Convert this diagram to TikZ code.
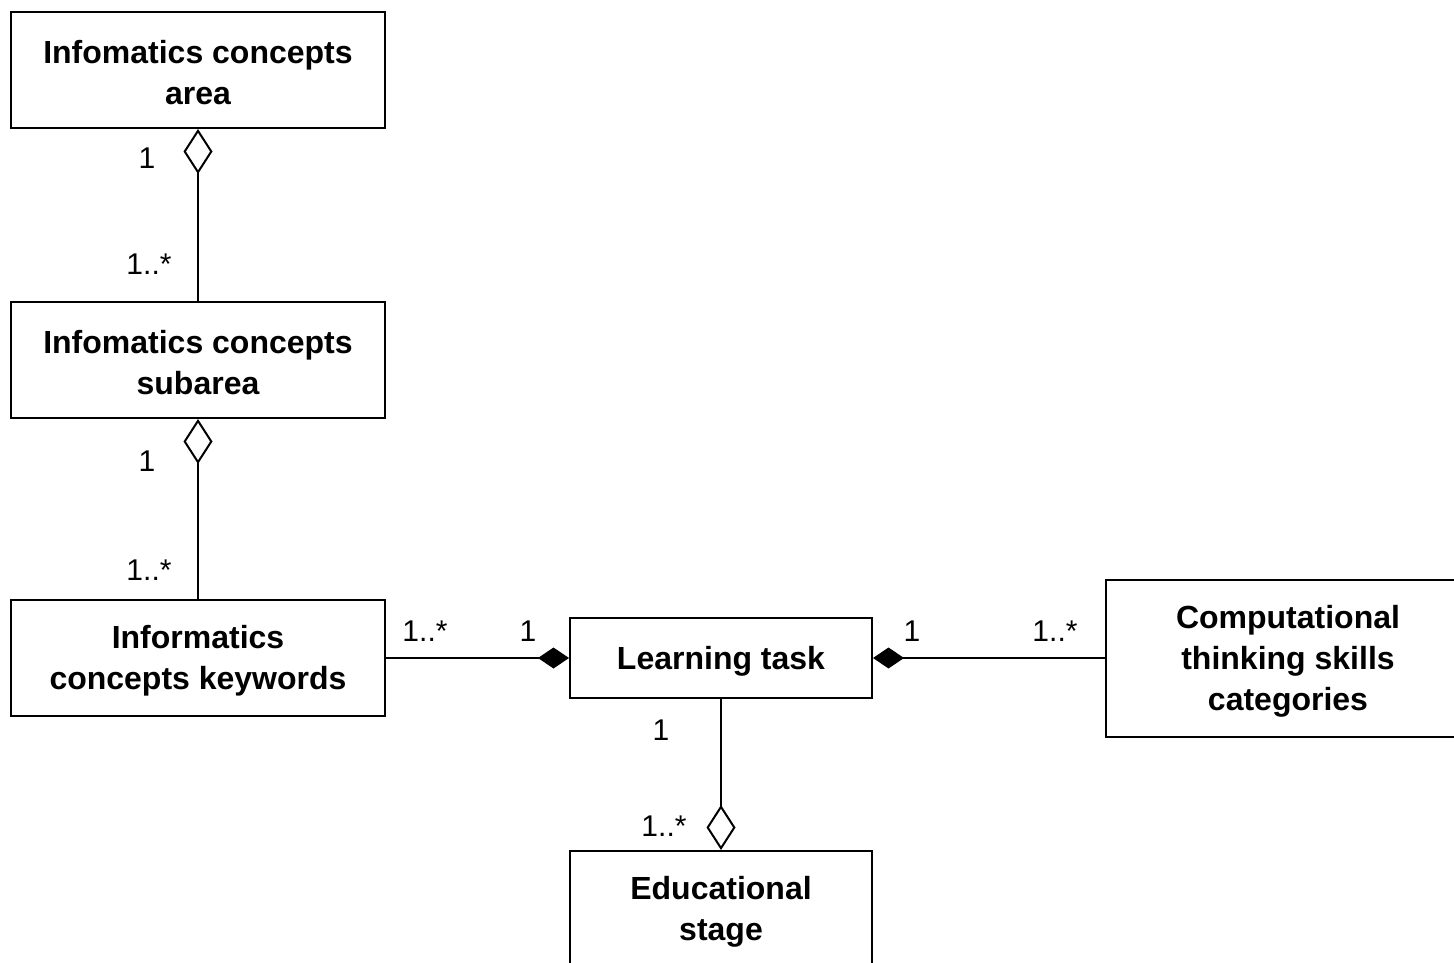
\documentclass[tikz,border=0pt]{standalone}
\usepackage{fontspec}
\setmainfont{Liberation Sans}
\usetikzlibrary{arrows.meta}
\begin{document}
\begin{tikzpicture}[x=1pt,y=1pt,
  cls/.style={draw, line width=2pt, fill=white, inner sep=0pt},
  title/.style={align=center, inner sep=0pt, yshift=-3pt,
    font=\fontsize{32}{41}\selectfont\bfseries},
  mult/.style={font=\fontsize{30}{36}\selectfont, inner sep=0pt, anchor=center},
  conn/.style={line width=2pt},
  agg/.style={{Diamond[open,length=45pt,width=29pt,line width=2pt]}-},
  comp/.style={{Diamond[length=31pt,width=21pt]}-}
]
\useasboundingbox (0,0) rectangle (1454,-963);

% classes
\node[cls, minimum width=374pt, minimum height=116pt] (area) at (198,-70) {};
\node[title] (areaT) at (area.center) {Infomatics concepts\\area};
\node[cls, minimum width=374pt, minimum height=116pt] (subarea) at (198,-360) {};
\node[title] (subareaT) at (subarea.center) {Infomatics concepts\\subarea};
\node[cls, minimum width=374pt, minimum height=116pt] (keywords) at (198,-658) {};
\node[title] (keywordsT) at (keywords.center) {Informatics\\concepts keywords};
\node[cls, minimum width=302pt, minimum height=80pt] (task) at (721,-658) {};
\node[title] (taskT) at (task.center) {Learning task};
\node[cls, minimum width=364pt, minimum height=157pt] (skills) at (1288,-658) {};
\node[title] (skillsT) at ([yshift=-0.5pt]skills.center) {Computational\\thinking skills\\categories};
\node[cls, minimum width=302pt, minimum height=116pt] (stage) at (721,-909) {};
\node[title] (stageT) at (stage.center) {Educational\\stage};

% associations
\draw[conn, agg] (area.south) -- (subarea.north);
\draw[conn, agg] (subarea.south) -- (keywords.north);
\draw[conn, comp] (task.west) -- (keywords.east);
\draw[conn, comp] (task.east) -- (skills.west);
\draw[conn, agg] (stage.north) -- (task.south);

% multiplicities
\node[mult] (m1) at (147,-158) {1};
\node[mult] (m2) at (149,-264) {1..*};
\node[mult] (m3) at (147,-461) {1};
\node[mult] (m4) at (149,-570) {1..*};
\node[mult] (m5) at (425,-631) {1..*};
\node[mult] (m6) at (528,-631) {1};
\node[mult] (m7) at (912,-631) {1};
\node[mult] (m8) at (1055,-631) {1..*};
\node[mult] (m9) at (661,-730) {1};
\node[mult] (m10) at (664,-826) {1..*};
\end{tikzpicture}
\end{document}
